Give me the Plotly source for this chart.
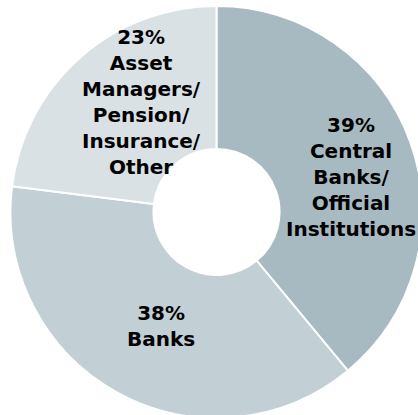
import plotly.graph_objects as go

categories = ["Central<br>Banks/<br>Official<br>Institutions", "Banks", "Asset<br>Managers/<br>Pension/<br>Insurance/<br>Other"]
shares = [39, 38, 23]
colors = ["#a7bac2", "#c2cfd5", "#d9e1e4"]
# label block centres (pixels from top-left)
label_pos = [(351, 177), (161, 326), (141, 102)]

W, H = 433, 424
top, bottom = 6, 418

fig = go.Figure(go.Pie(
    labels=categories,
    values=shares,
    sort=False,
    direction="clockwise",
    rotation=0,
    hole=0.306,
    marker=dict(colors=colors, line=dict(color="white", width=2)),
    textinfo="none",
    domain=dict(x=[0, 1], y=[(H - bottom) / H, (H - top) / H]),
    showlegend=False,
    hoverinfo="skip",
))
for cat, val, (px, py) in zip(categories, shares, label_pos):
    fig.add_annotation(
        x=px / W, y=1 - py / H, xref="paper", yref="paper",
        xanchor="center", yanchor="middle", showarrow=False,
        text=f"{val}%<br>{cat}", align="center",
        font=dict(family="DejaVu Sans", size=20, color="black", weight="bold"),
    )
fig.update_layout(
    width=W, height=H,
    margin=dict(l=0, r=0, t=0, b=0),
    paper_bgcolor="white",
)
fig.write_html("out.html", config={"displayModeBar": False},
               post_script="document.body.style.margin='0';document.body.style.overflow='hidden';document.documentElement.style.overflow='hidden';")
